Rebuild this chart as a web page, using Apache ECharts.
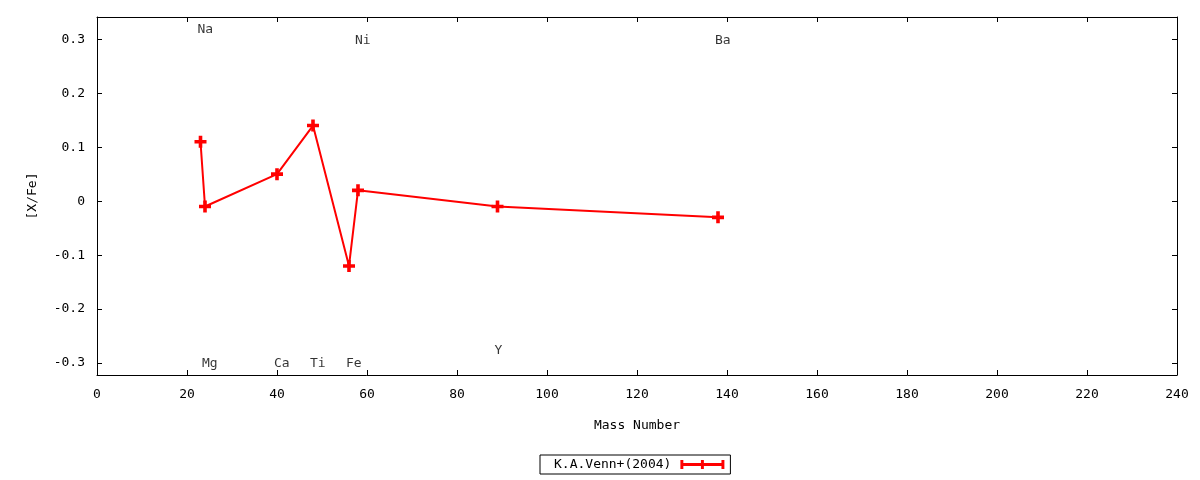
<!DOCTYPE html>
<html>
<head>
<meta charset="utf-8">
<script src="https://cdn.jsdelivr.net/npm/echarts@6/dist/echarts.min.js"></script>
<style>
  html, body { margin: 0; padding: 0; background: #fff; }
  #main { width: 1200px; height: 480px; }
</style>
</head>
<body>
<div id="main"></div>
<script>
// abundance pattern, K.A.Venn+(2004)
var elements = ['Na', 'Mg', 'Ca', 'Ti', 'Fe', 'Ni', 'Y', 'Ba'];
var massNumber = [23, 24, 40, 48, 56, 58, 89, 138];
var xFe = [0.11, -0.01, 0.05, 0.14, -0.12, 0.02, -0.01, -0.03];

// where the element names are written (data coords)
var labelX = [23, 24, 40, 48, 56, 58, 89, 138];
var labelY = [0.32, -0.30, -0.30, -0.30, -0.30, 0.30, -0.275, 0.30];

var yTicks = [-0.3, -0.2, -0.1, 0, 0.1, 0.2, 0.3];
var seriesName = 'K.A.Venn+(2004)';

var FONT = 'DejaVu Sans Mono';
var RED = '#ff0000';
var plusPath = 'path://M3.5,0h3v3.5h3.5v3h-3.5v3.5h-3v-3.5h-3.5v-3h3.5z';
// key sample: thick bar with end caps and a cross in the middle
var legendPath = 'path://M0,0h3v3h18v-3h3v3h18v-3h3v9h-3v-3h-18v3h-3v-3h-18v3h-3z';

var lineData = massNumber.map(function (m, i) { return [m, xFe[i]]; });
var labelData = labelX.map(function (x, i) { return [x, labelY[i], elements[i]]; });

var tickStyle = { show: true, inside: true, length: 5, lineStyle: { color: '#000', width: 1 } };
var lineAxis = { show: true, onZero: false, lineStyle: { color: '#000', width: 1 } };

var myChart = echarts.init(document.getElementById('main'));

var option = {
    animation: false,
    backgroundColor: '#fff',
    textStyle: { fontFamily: FONT },
    grid: { left: 97, right: 23, top: 17, bottom: 105, containLabel: false },
    legend: {
        data: [seriesName],
        left: 540,
        top: 455,
        orient: 'horizontal',
        align: 'right',
        icon: legendPath,
        itemWidth: 44,
        itemHeight: 9,
        borderColor: '#000',
        borderWidth: 1,
        borderRadius: 0,
        padding: [3, 6, 3, 14],
        textStyle: { fontFamily: FONT, fontSize: 13, color: '#000', padding: [3, 4, 0, 0] }
    },
    xAxis: [{
        type: 'value',
        min: 0,
        max: 240,
        interval: 20,
        name: 'Mass Number',
        nameLocation: 'middle',
        nameGap: 44,
        nameTextStyle: { fontFamily: FONT, fontSize: 13, color: '#000' },
        axisLine: lineAxis,
        axisTick: tickStyle,
        axisLabel: { fontFamily: FONT, fontSize: 13, color: '#000', margin: 13 },
        splitLine: { show: false }
    }, {
        type: 'value',
        position: 'top',
        min: 0,
        max: 240,
        interval: 20,
        axisLine: lineAxis,
        axisTick: tickStyle,
        axisLabel: { show: false },
        splitLine: { show: false }
    }],
    yAxis: [{
        type: 'value',
        min: -0.322,
        max: 0.341,
        name: '[X/Fe]',
        nameLocation: 'middle',
        nameGap: 58,
        nameTextStyle: { fontFamily: FONT, fontSize: 13, color: '#000' },
        axisLine: lineAxis,
        axisTick: Object.assign({ customValues: yTicks }, tickStyle),
        axisLabel: { customValues: yTicks, fontFamily: FONT, fontSize: 13, color: '#000', margin: 12 },
        splitLine: { show: false }
    }, {
        type: 'value',
        position: 'right',
        min: -0.322,
        max: 0.341,
        axisLine: lineAxis,
        axisTick: Object.assign({ customValues: yTicks }, tickStyle),
        axisLabel: { show: false, customValues: yTicks },
        splitLine: { show: false }
    }],
    series: [{
        name: seriesName,
        type: 'line',
        xAxisIndex: 0,
        yAxisIndex: 0,
        data: lineData,
        symbol: plusPath,
        symbolSize: 12,
        showAllSymbol: true,
        lineStyle: { color: RED, width: 2 },
        itemStyle: { color: RED },
        z: 3
    }, {
        name: 'labels',
        type: 'scatter',
        xAxisIndex: 0,
        yAxisIndex: 0,
        data: labelData,
        symbolSize: 0,
        silent: true,
        label: {
            show: true,
            position: 'inside',
            align: 'left',
            verticalAlign: 'middle',
            offset: [-3, 1],
            fontFamily: FONT,
            fontSize: 13,
            color: '#000',
            formatter: function (p) { return p.data[2]; }
        },
        z: 2
    }]
};

myChart.setOption(option);
</script>
</body>
</html>
